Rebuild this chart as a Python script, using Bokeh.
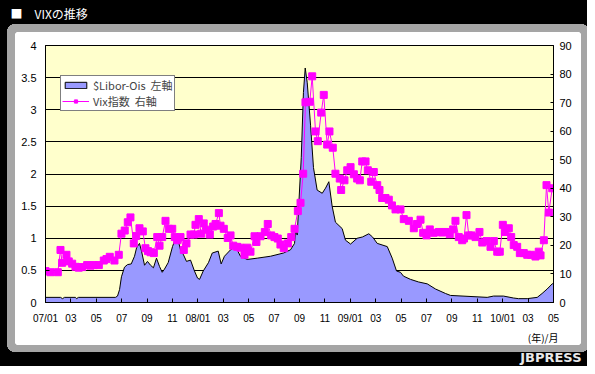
from bokeh.plotting import figure
from bokeh.models import (Range1d, LinearAxis, FixedTicker, Legend, LegendItem, Title)
from bokeh.embed import file_html
from bokeh.resources import INLINE

# ---- data (x = months since Jan 2007) ----
xtick_months = [0, 2, 4, 6, 8, 10, 12, 14, 16, 18, 20, 22, 24, 26, 28, 30, 32, 34, 36, 38, 40]
xtick_labels = ["07/01", "03", "05", "07", "09", "11", "08/01", "03", "05", "07", "09", "11",
                "09/01", "03", "05", "07", "09", "11", "10/01", "03", "05"]
left_ticks = [0, 0.5, 1, 1.5, 2, 2.5, 3, 3.5, 4]
left_tick_labels = ["0", "0.5", "1", "1.5", "2", "2.5", "3", "3.5", "4"]
right_ticks = [0, 10, 20, 30, 40, 50, 60, 70, 80, 90]

libor_month = [0, 1.18, 1.34, 1.5, 2.36, 2.44, 2.6, 5.51, 5.67, 5.83, 5.98, 6.22, 6.46, 6.75,
               7.01, 7.17, 7.4, 7.56, 7.8, 8.03, 8.27, 8.5, 8.74, 8.98, 9.19, 9.37, 9.66, 10.0,
               10.24, 10.47, 10.63, 10.87, 11.1, 11.42, 11.73, 11.97, 12.13, 12.42, 12.83, 13.13,
               13.6, 13.83, 14.09, 14.57, 14.96, 15.35, 15.88, 16.67, 17.72, 18.74, 19.29, 19.61,
               19.69, 19.82, 19.95, 20.14, 20.31, 20.45, 20.61, 20.87, 21.1, 21.39, 21.79, 22.05,
               22.31, 22.57, 22.83, 23.36, 23.62, 24.02, 24.54, 24.96, 25.46, 25.75, 26.12, 26.91,
               27.3, 27.64, 27.95, 28.19, 28.74, 29.37, 30.06, 30.71, 31.5, 31.89, 34.78, 35.28,
               36.06, 36.85, 37.24, 37.93, 38.72, 39.1, 39.5, 39.9, 40]
libor_value = [0.08, 0.08, 0.06, 0.08, 0.08, 0.06, 0.08, 0.08, 0.10, 0.20, 0.40, 0.55, 0.59, 0.60,
               0.72, 0.85, 0.92, 0.80, 0.58, 0.64, 0.58, 0.54, 0.69, 0.56, 0.47, 0.52, 0.62, 0.87,
               1.00, 0.95, 0.82, 0.74, 0.64, 0.66, 0.49, 0.38, 0.36, 0.49, 0.62, 0.77,
               0.80, 0.60, 0.72, 0.82, 0.87, 0.72, 0.67, 0.69, 0.72, 0.77, 0.82, 0.92,
               1.15, 1.05, 1.55, 2.26, 3.27, 3.65, 3.42, 2.76, 2.10, 1.75, 1.70, 1.78,
               1.88, 1.50, 1.25, 1.15, 0.97, 0.91, 1.00, 1.02, 1.07, 1.02, 0.92, 0.87,
               0.69, 0.49, 0.47, 0.41, 0.36, 0.32, 0.29, 0.21, 0.14, 0.11, 0.08, 0.10,
               0.10, 0.07, 0.06, 0.06, 0.08, 0.14, 0.21, 0.29, 0.30]

vix_month = [0.0, 0.39, 0.97, 1.18, 1.31, 1.65, 1.83, 2.1, 2.36, 2.62, 2.89, 3.28, 3.54, 3.8, 4.2,
             4.59, 4.8, 5.06, 5.43, 5.77, 5.98, 6.24, 6.48, 6.69, 6.95, 7.14, 7.4, 7.66, 7.87,
             8.07, 8.27, 8.53, 8.8, 8.98, 9.19, 9.45, 9.71, 9.98, 10.18, 10.37, 10.63, 10.89,
             11.1, 11.42, 11.68, 11.81, 12.07, 12.26, 12.46, 12.68, 12.94, 13.2, 13.39, 13.65,
             13.78, 14.04, 14.35, 14.57, 14.78, 15.09, 15.35, 15.67, 15.88, 16.14, 16.46, 16.61,
             16.93, 17.27, 17.5, 17.77, 18.03, 18.29, 18.5, 18.76, 19.08, 19.35, 19.61, 19.87,
             20.08, 20.29, 20.47, 20.81, 21.0, 21.26, 21.44, 21.71, 21.91, 22.18, 22.36, 22.62,
             22.83, 23.17, 23.28, 23.54, 23.76, 24.02, 24.28, 24.54, 24.75, 24.94, 25.2, 25.38,
             25.65, 25.85, 26.12, 26.3, 26.51, 26.77, 27.03, 27.28, 27.56, 27.95, 28.21, 28.61,
             29.0, 29.25, 29.53, 29.74, 30.0, 30.26, 30.57, 30.97, 31.22, 31.5, 31.83, 32.1,
             32.28, 32.54, 32.81, 32.95, 33.15, 33.33, 33.54, 33.86, 34.17, 34.39, 34.72, 35.04,
             35.3, 35.57, 35.77, 36.01, 36.17, 36.48, 36.67, 36.87, 37.14, 37.35, 37.66, 37.93,
             38.24, 38.58, 38.84, 38.98, 39.24, 39.45, 39.63, 39.9]
vix_value = [11.0, 10.6, 10.6, 18.4, 13.9, 16.7, 14.4, 13.6, 12.5, 12.2, 12.4, 13.1, 12.9, 13.1, 13.1,
             14.7, 15.2, 16.0, 14.7, 16.7, 24.1, 25.2, 28.1, 29.8, 20.7, 23.3, 26.0, 24.9, 19.0,
             18.0, 17.6, 17.3, 22.9, 19.9, 22.9, 28.6, 25.8, 25.8, 22.9, 21.8, 22.9, 18.4,
             20.7, 23.8, 23.8, 27.2, 29.2, 24.1, 27.7, 25.5, 23.8, 26.6, 27.5, 31.3,
             26.9, 25.8, 22.6, 23.5, 19.9, 19.5, 19.2, 16.7, 19.2, 17.8, 23.2, 21.2,
             23.2, 24.7, 27.5, 23.5, 22.9, 22.4, 20.3, 19.0, 20.7, 22.9, 25.8, 32.0,
             34.9, 45.1, 70.1, 70.3, 79.2, 59.9, 56.5, 66.5, 72.7, 55.3, 59.9, 54.2,
             45.1, 43.4, 39.4, 42.8, 46.3, 47.4, 44.9, 43.4, 42.8, 49.4, 49.4, 46.3,
             42.3, 45.7, 41.1, 39.4, 36.6, 36.6, 36.0, 34.0, 32.6, 32.6, 29.2, 28.6,
             26.0, 27.5, 29.0, 24.4, 23.5, 25.6, 24.4, 24.7, 24.5, 24.7, 23.9, 25.6,
             28.6, 22.9, 21.8, 22.4, 30.6, 23.5, 23.5, 22.9, 24.7, 21.0, 21.5, 19.5,
             21.5, 17.8, 17.8, 27.2, 24.7, 26.0, 22.9, 20.1, 19.5, 17.3, 17.3, 16.7,
             16.7, 16.1, 17.8, 16.5, 21.8, 41.1, 31.5, 40.0]

FONT = "Liberation Sans"
JP = "Noto Sans CJK JP"


def rounded_rect_layers(x, y, w, h, r, c):
    g = f"linear-gradient({c},{c})"
    rad = f"radial-gradient(circle closest-side,{c} 96%,transparent 100%)"
    return [
        f"{g} {x + r}px {y}px / {w - 2 * r}px {h}px no-repeat",
        f"{g} {x}px {y + r}px / {w}px {h - 2 * r}px no-repeat",
        f"{rad} {x}px {y}px / {2 * r}px {2 * r}px no-repeat",
        f"{rad} {x + w - 2 * r}px {y}px / {2 * r}px {2 * r}px no-repeat",
        f"{rad} {x}px {y + h - 2 * r}px / {2 * r}px {2 * r}px no-repeat",
        f"{rad} {x + w - 2 * r}px {y + h - 2 * r}px / {2 * r}px {2 * r}px no-repeat",
    ]


bg = ", ".join(rounded_rect_layers(15, 32, 566, 313, 3, "#FFFFFF")
               + rounded_rect_layers(7, 24, 582, 328, 7, "#A5A5A5")
               + ["#000000"])

p = figure(width=587, height=366, output_backend="svg", toolbar_location=None,
           x_range=Range1d(0, 40), y_range=Range1d(0, 4),
           min_border_left=45, min_border_right=34, min_border_top=45, min_border_bottom=57,
           border_fill_color=None, background_fill_color="#FFFFCC",
           outline_line_color="black", outline_line_width=1)
p.styles = {"background": bg}
p.extra_y_ranges = {"vix": Range1d(0, 90)}

# title (top band, on black); a blank spacer title sits between it and the frame
p.title.text = "■　VIXの推移"
p.title.align = "left"
p.title.offset = -35
p.title.standoff = 4
p.title.text_color = "white"
p.title.text_font = JP
p.title.text_font_size = "12px"
p.title.text_font_style = "normal"
p.add_layout(Title(text=" ", standoff=3, text_font=JP, text_font_size="12px"), "above")

# axes
p.xaxis.ticker = FixedTicker(ticks=xtick_months)
p.xaxis.major_label_overrides = {m: s for m, s in zip(xtick_months, xtick_labels)}
p.yaxis.ticker = FixedTicker(ticks=left_ticks)
p.yaxis.major_label_overrides = {t: s for t, s in zip(left_ticks, left_tick_labels)}
for ax in (p.xaxis[0], p.yaxis[0]):
    ax.axis_line_color = "black"
    ax.major_tick_line_color = "black"
    ax.major_tick_in = 4
    ax.major_tick_out = 0
    ax.minor_tick_line_color = None
    ax.major_label_text_font = FONT
    ax.major_label_text_color = "black"
p.xaxis.major_label_text_font_size = "10px"
p.xaxis.major_label_standoff = 10
p.yaxis.major_label_text_font_size = "11px"
p.yaxis.major_label_standoff = 9

rax = LinearAxis(y_range_name="vix", ticker=FixedTicker(ticks=right_ticks),
                 major_tick_in=3, major_tick_out=0, minor_tick_line_color=None,
                 axis_line_color="black", major_tick_line_color="black",
                 major_label_text_font=FONT, major_label_text_font_size="11px",
                 major_label_standoff=6, major_label_text_color="black")
p.add_layout(rax, "right")

p.xgrid.visible = False
p.ygrid.ticker = FixedTicker(ticks=left_ticks)
p.ygrid.grid_line_color = "black"
p.ygrid.grid_line_width = 1

# series
area = p.patch([libor_month[0]] + libor_month + [libor_month[-1]],
               [0] + libor_value + [0],
               fill_color="#9999FF", line_color="black", line_width=1)
vline = p.line(vix_month, vix_value, y_range_name="vix", line_color="#FF00FF", line_width=1)
vpts = p.scatter(vix_month, vix_value, y_range_name="vix", marker="square", size=7,
                 fill_color="#FF00FF", line_color="#FF00FF")

legend = Legend(items=[LegendItem(label="$Libor-Ois  左軸", renderers=[area]),
                       LegendItem(label="Vix指数  右軸", renderers=[vline, vpts])],
                location=(15, 191), orientation="vertical",
                label_text_font=JP, label_text_font_size="11px",
                glyph_width=27, glyph_height=8, label_height=15, label_standoff=4,
                spacing=0, padding=1, margin=0,
                border_line_color="black", border_line_width=1,
                background_fill_color="white", background_fill_alpha=1)
p.add_layout(legend)

# bottom texts
p.add_layout(Title(text="(年)/月", align="right", offset=-5, standoff=2,
                   text_color="black", text_font=JP, text_font_size="10px",
                   text_font_style="normal"), "below")
p.add_layout(Title(text="JBPRESS", align="right", offset=-28, standoff=4,
                   text_color="#E8E8E8", text_font="DejaVu Sans", text_font_size="13px",
                   text_font_style="bold"), "below")

open("out.html", "w").write(file_html(p, INLINE))
